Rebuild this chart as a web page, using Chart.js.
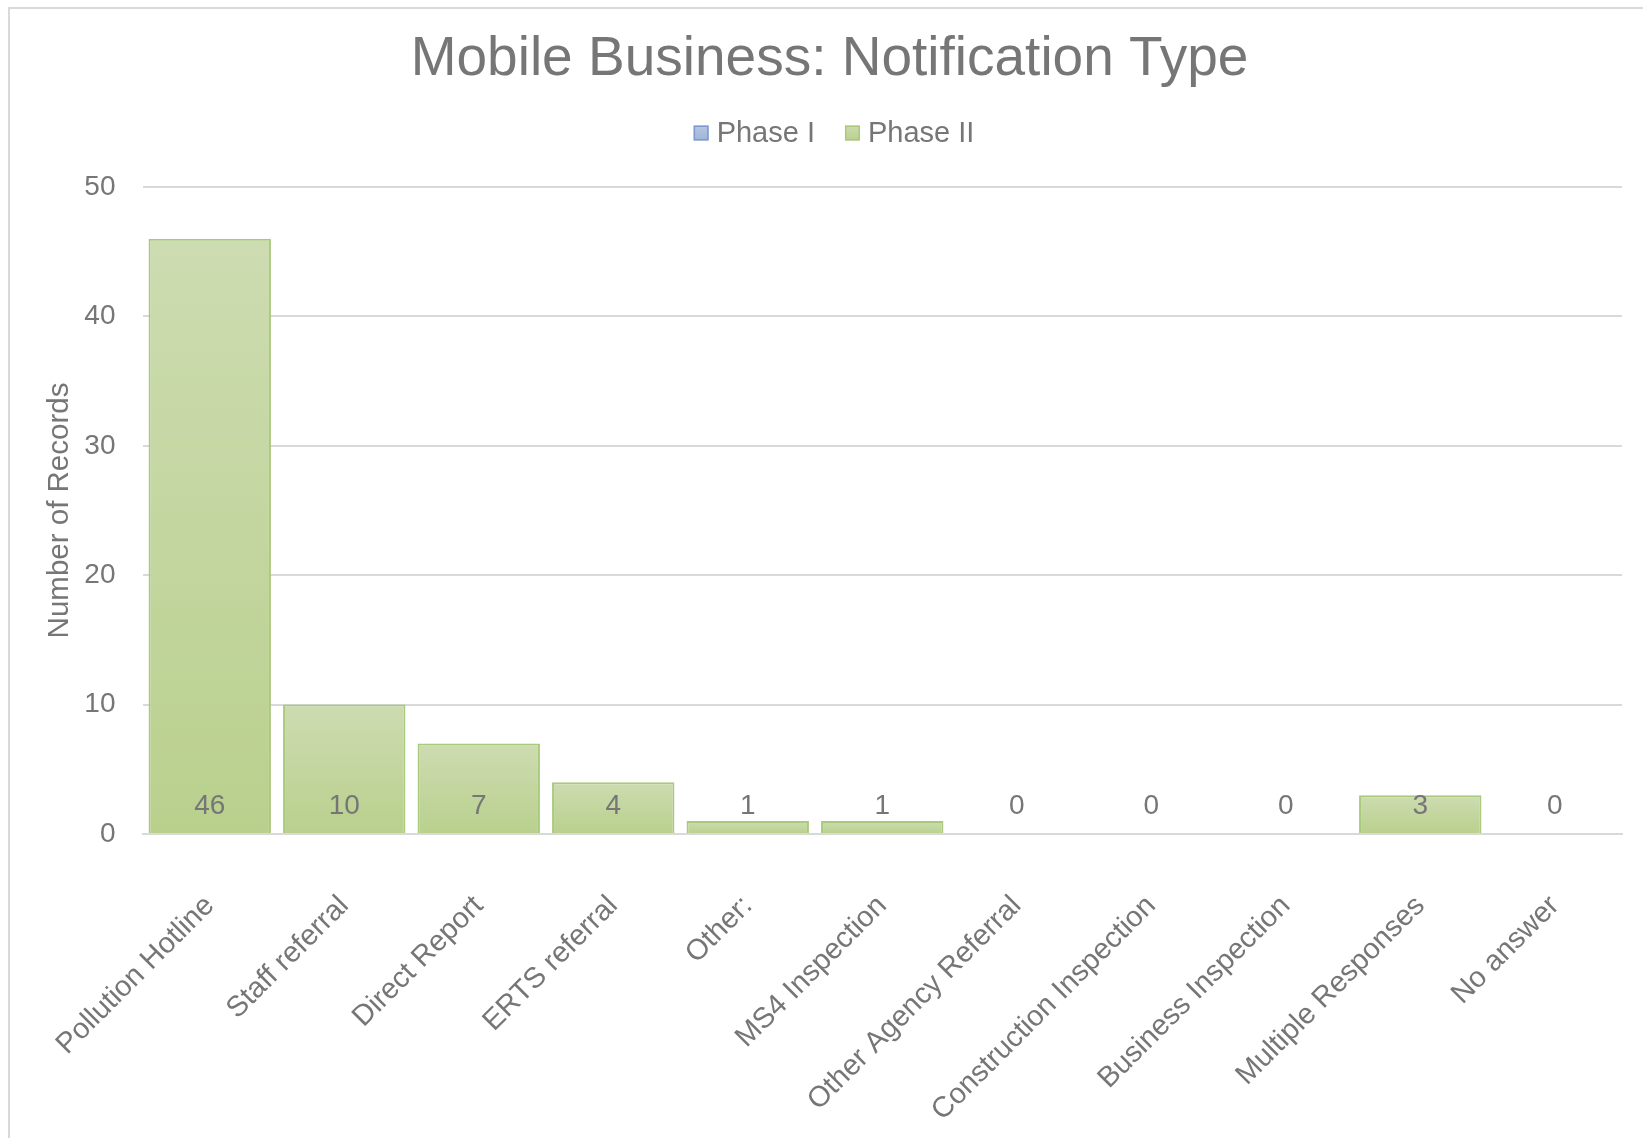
<!DOCTYPE html>
<html>
<head>
<meta charset="utf-8">
<title>Mobile Business: Notification Type</title>
<script src="https://cdn.jsdelivr.net/npm/chart.js@4/dist/chart.umd.min.js"></script>
<style>
    html, body { margin: 0; padding: 0; background: #ffffff; }
    #wrap { position: relative; width: 1643px; height: 1138px; }
</style>
</head>
<body>
<div id="wrap"><canvas id="notificationChart" width="1643" height="1138"></canvas></div>
<script>
// 通知类型分类
const categories = [
    'Pollution Hotline', 'Staff referral', 'Direct Report', 'ERTS referral', 'Other:',
    'MS4 Inspection', 'Other Agency Referral', 'Construction Inspection',
    'Business Inspection', 'Multiple Responses', 'No answer'
];
const phaseI = [0, 0, 0, 0, 0, 0, 0, 0, 0, 0, 0];
const phaseII = [46, 10, 7, 4, 1, 1, 0, 0, 0, 3, 0];
const yTicks = [0, 10, 20, 30, 40, 50];

const TEXT = '#767676';
const GRID = '#d9d9d9';
const FONT = 'Liberation Sans, Arial, sans-serif';
const SERIES = [
    { top: '#b7c7e4', bottom: '#9fb4db', border: '#7d9bcc' },
    { top: '#cddcb1', bottom: '#b9d08d', border: '#a9c97c' }
];

// 每根柱子单独的竖向渐变
function barGradient(context, top, bottom) {
    const chart = context.chart;
    const y = chart.scales.y;
    if (!y || context.raw === undefined) return bottom;
    const y0 = y.getPixelForValue(context.raw);
    const y1 = y.getPixelForValue(0);
    if (!isFinite(y0) || !isFinite(y1) || y0 === y1) return bottom;
    const g = chart.ctx.createLinearGradient(0, y0, 0, y1);
    g.addColorStop(0, top);
    g.addColorStop(1, bottom);
    return g;
}

// 外框（左、上两边可见）
const framePlugin = {
    id: 'frame',
    beforeDraw(chart) {
        const ctx = chart.ctx;
        ctx.save();
        ctx.strokeStyle = '#d9d9d9';
        ctx.lineWidth = 2;
        ctx.strokeRect(9, 8, 1700, 1200);
        ctx.restore();
    }
};

// 图例：标题与绘图区之间，居中
const legendPlugin = {
    id: 'topLegend',
    afterDraw(chart) {
        const ctx = chart.ctx;
        const box = 15, gap = 8, between = 30, cy = 133, cx = 834;
        ctx.save();
        ctx.font = '29px ' + FONT;
        const items = chart.data.datasets.map((ds, i) => ({
            text: ds.label,
            style: SERIES[i],
            w: box + gap + ctx.measureText(ds.label).width
        }));
        const total = items.reduce((s, it) => s + it.w, 0) + between * (items.length - 1);
        let x = cx - total / 2;
        ctx.textBaseline = 'middle';
        ctx.textAlign = 'left';
        items.forEach(it => {
            const g = ctx.createLinearGradient(0, cy - box / 2, 0, cy + box / 2);
            g.addColorStop(0, it.style.top);
            g.addColorStop(1, it.style.bottom);
            ctx.fillStyle = g;
            ctx.fillRect(x, cy - box / 2, box, box);
            ctx.strokeStyle = it.style.border;
            ctx.lineWidth = 1.5;
            ctx.strokeRect(x + 0.75, cy - box / 2 + 0.75, box - 1.5, box - 1.5);
            ctx.fillStyle = TEXT;
            ctx.fillText(it.text, x + box + gap, cy + 1);
            x += it.w + between;
        });
        ctx.restore();
    }
};

// 数值标签：放在柱子底部
const baseLabelPlugin = {
    id: 'baseLabels',
    afterDatasetsDraw(chart) {
        const ctx = chart.ctx;
        const meta = chart.getDatasetMeta(1);
        const y0 = chart.scales.y.getPixelForValue(0);
        ctx.save();
        ctx.font = '28px ' + FONT;
        ctx.fillStyle = TEXT;
        ctx.textAlign = 'center';
        ctx.textBaseline = 'middle';
        meta.data.forEach((bar, i) => {
            const total = phaseI[i] + phaseII[i];
            ctx.fillText(String(total), bar.x, y0 - 28);
        });
        ctx.restore();
    }
};

new Chart(document.getElementById('notificationChart'), {
    type: 'bar',
    data: {
        labels: categories,
        datasets: [{
            label: 'Phase I',
            data: phaseI,
            backgroundColor: ctx => barGradient(ctx, SERIES[0].top, SERIES[0].bottom),
            borderColor: SERIES[0].border,
            borderWidth: 2
        }, {
            label: 'Phase II',
            data: phaseII,
            backgroundColor: ctx => barGradient(ctx, SERIES[1].top, SERIES[1].bottom),
            borderColor: SERIES[1].border,
            borderWidth: 2
        }]
    },
    options: {
        responsive: false,
        animation: false,
        layout: {
            padding: { top: 0, right: 21, bottom: 0, left: 37 }
        },
        datasets: {
            bar: {
                categoryPercentage: 0.91,
                barPercentage: 1.0
            }
        },
        plugins: {
            title: {
                display: true,
                text: 'Mobile Business: Notification Type',
                color: TEXT,
                font: { family: FONT, size: 55, weight: 'normal' },
                padding: { top: 27, bottom: 94 }
            },
            legend: { display: false },
            tooltip: { enabled: false }
        },
        scales: {
            x: {
                stacked: true,
                afterFit: scale => { scale.height = 304; },
                grid: { display: false, drawTicks: false },
                border: { color: GRID, width: 2 },
                ticks: {
                    color: TEXT,
                    font: { family: FONT, size: 29 },
                    minRotation: 45,
                    maxRotation: 45,
                    autoSkip: false,
                    padding: 55
                }
            },
            y: {
                stacked: true,
                min: 0,
                max: 50,
                afterFit: scale => { scale.width = 105.5; },
                afterBuildTicks: scale => {
                    scale.ticks = yTicks.map(v => ({ value: v }));
                },
                grid: { color: GRID, lineWidth: 2, drawTicks: false },
                border: { display: false },
                ticks: {
                    color: TEXT,
                    font: { family: FONT, size: 28 },
                    padding: 27
                },
                title: {
                    display: true,
                    text: 'Number of Records',
                    color: TEXT,
                    font: { family: FONT, size: 29.5 },
                    padding: { top: 5, bottom: 0 }
                }
            }
        }
    },
    plugins: [framePlugin, legendPlugin, baseLabelPlugin]
});
</script>
</body>
</html>
